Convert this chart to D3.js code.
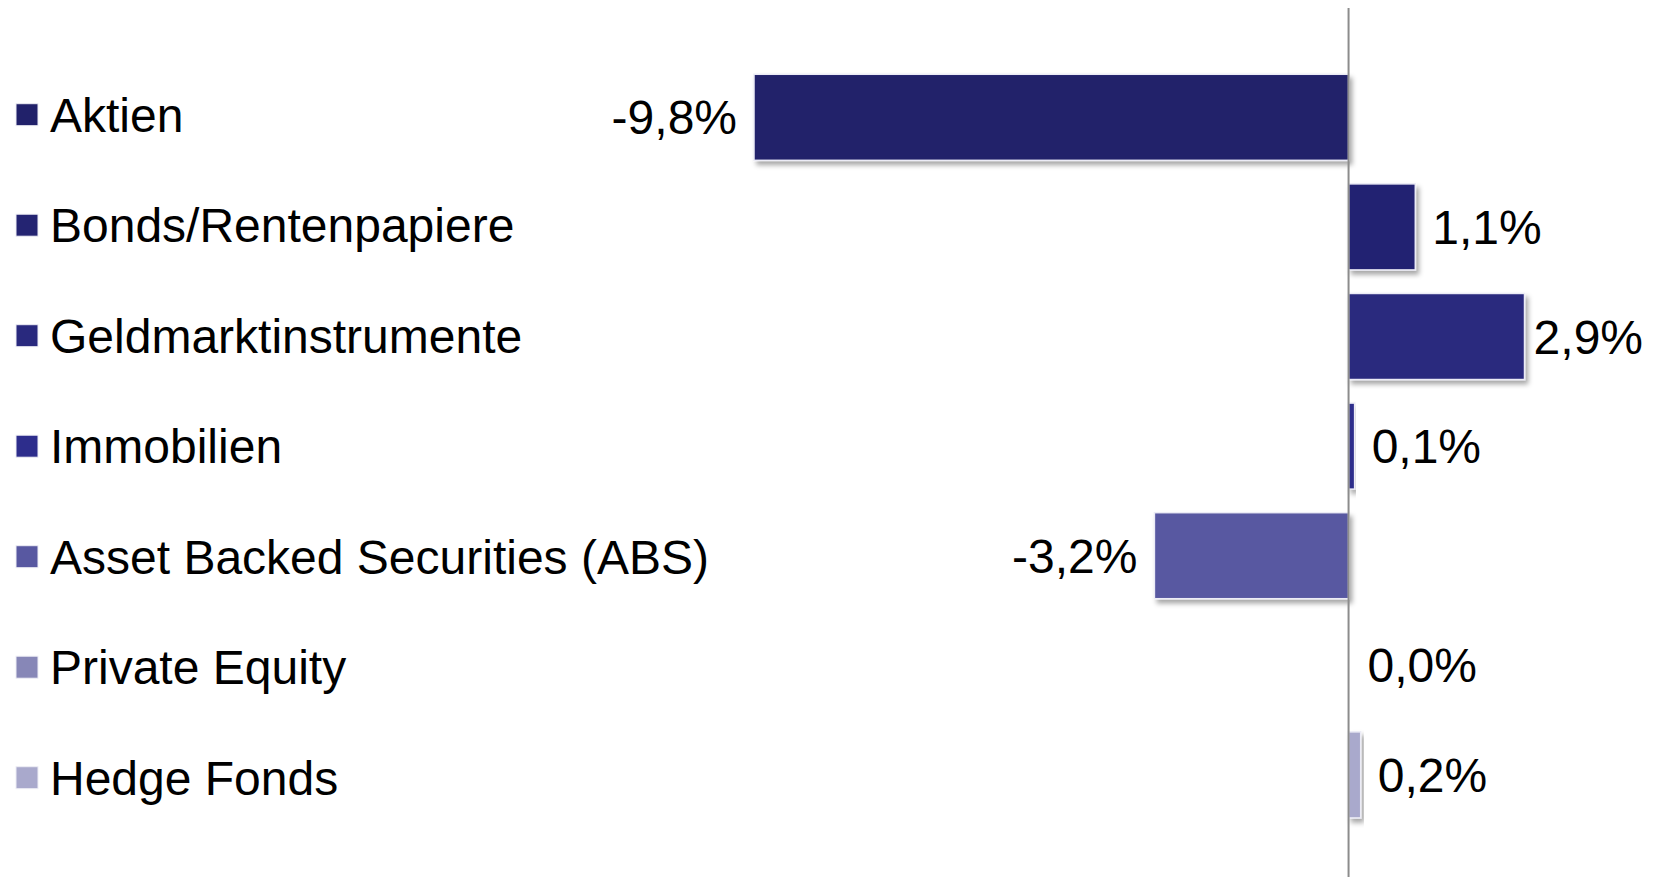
<!DOCTYPE html>
<html lang="de">
<head>
<meta charset="utf-8">
<script src="https://cdn.jsdelivr.net/npm/d3@7"></script>
<style>
  html, body { margin: 0; padding: 0; background: #ffffff; }
  svg { display: block; font-family: "Liberation Sans", Arial, Helvetica, sans-serif; }
</style>
</head>
<body>
<svg id="chart" width="1659" height="877"></svg>
<script>
// Asset classes, their performance in percent, and their fill colours
const categories = [
  "Aktien",
  "Bonds/Rentenpapiere",
  "Geldmarktinstrumente",
  "Immobilien",
  "Asset Backed Securities (ABS)",
  "Private Equity",
  "Hedge Fonds"
];
const values = [-9.8, 1.1, 2.9, 0.1, -3.2, 0.0, 0.2];
const colors = ["#21216a", "#242472", "#29297e", "#2d2d8c", "#5858a1", "#8787b7", "#a9a9cc"];

const W = 1659, H = 877;
const svg = d3.select("#chart");

// Drop shadow used by the bars
const defs = svg.append("defs");
const shadow = defs.append("filter")
  .attr("id", "barShadow")
  .attr("x", "-20%").attr("y", "-20%")
  .attr("width", "140%").attr("height", "150%");
shadow.append("feDropShadow")
  .attr("dx", 3).attr("dy", 4)
  .attr("stdDeviation", 2.5)
  .attr("flood-color", "#000")
  .attr("flood-opacity", 0.35);

// Scales
const x = d3.scaleLinear()
  .domain([d3.min(values), d3.max(values)])
  .range([754, 1524.5]);

const y = d3.scaleBand()
  .domain(categories)
  .range([62.5, 829.7])
  .paddingInner(0.215)
  .paddingOuter(0.1075);

const yLegend = d3.scalePoint()
  .domain(categories)
  .range([114.7, 777.7]);

const color = d3.scaleOrdinal().domain(categories).range(colors);

const data = categories.map((c, i) => ({ name: c, value: values[i] }));
// German decimal comma, plain hyphen for negatives
const fmt = v => (v < 0 ? "-" : "") + Math.abs(v).toFixed(1).replace(".", ",") + "%";

// Legend on the left
const legend = svg.append("g").attr("class", "legend");
const item = legend.selectAll("g")
  .data(data)
  .join("g")
  .attr("transform", d => `translate(0,${yLegend(d.name)})`);

item.append("rect")
  .attr("x", 16).attr("y", -11)
  .attr("width", 22).attr("height", 22)
  .attr("fill", d => color(d.name))
  .attr("stroke", "#eeeef6")
  .attr("stroke-width", 1);

item.append("text")
  .attr("x", 50)
  .attr("y", 17)
  .attr("font-size", 48)
  .attr("fill", "#000")
  .text(d => d.name);

// Bars
const bars = svg.append("g").attr("class", "bars");
bars.selectAll("rect")
  .data(data)
  .join("rect")
  .attr("x", d => Math.min(x(0), x(d.value)))
  .attr("y", d => y(d.name))
  .attr("width", d => Math.abs(x(d.value) - x(0)))
  .attr("height", y.bandwidth())
  .attr("fill", d => color(d.name))
  .attr("stroke", "#ececf6")
  .attr("stroke-width", 1.5)
  .attr("filter", "url(#barShadow)");

// Zero line
svg.append("line")
  .attr("x1", x(0)).attr("x2", x(0))
  .attr("y1", 8).attr("y2", H)
  .attr("stroke", "#8c8c8c")
  .attr("stroke-width", 2);

// Value labels beside each bar
const gap = 17;
const maxRight = 1643;
const labels = svg.append("g").attr("class", "labels");
labels.selectAll("text")
  .data(data)
  .join("text")
  .attr("font-size", 48)
  .attr("fill", "#000")
  .attr("y", d => y(d.name) + y.bandwidth() / 2 + 17)
  .text(d => fmt(d.value))
  .each(function (d) {
    const t = d3.select(this);
    const w = this.getComputedTextLength();
    if (d.value < 0) {
      t.attr("x", x(d.value) - gap).attr("text-anchor", "end");
    } else {
      let px = x(d.value) + gap;
      if (d.value === 0) px = x(0) + gap + 2;
      if (px + w > maxRight) px = maxRight - w;
      t.attr("x", px).attr("text-anchor", "start");
    }
  });
</script>
</body>
</html>
